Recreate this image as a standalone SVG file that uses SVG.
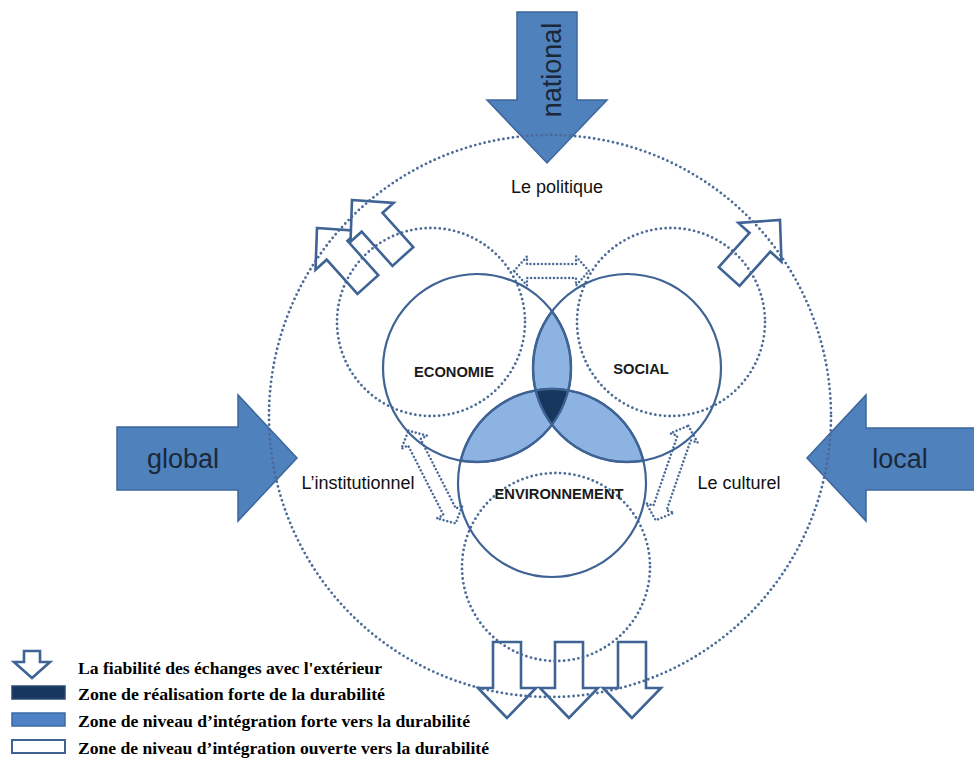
<svg xmlns="http://www.w3.org/2000/svg" width="974" height="758" viewBox="0 0 974 758">
<style>
.big{fill:#4f81bd;stroke:#3c679c;stroke-width:1.5}
.bigt{font-family:"Liberation Sans",Arial,sans-serif;font-size:27px;fill:#1b2838}
.dot{fill:none;stroke:#4a6a98;stroke-width:2.8;stroke-linecap:round;stroke-dasharray:0 4.8}
.dot2{fill:none;stroke:#4a6a98;stroke-width:2.5;stroke-linecap:round;stroke-dasharray:0 3.8}
.sol{fill:none;stroke:#3e6394;stroke-width:2.2}
.lens{fill:#8db3e2;stroke:#3e6394;stroke-width:2.4}
.core{fill:#17375e;stroke:#3e6394;stroke-width:1.5}
.oarr{fill:#fff;stroke:#3e6394;stroke-width:2.6;stroke-linejoin:miter}
.lbl{font-family:"Liberation Sans",Arial,sans-serif;font-size:18px;fill:#111}
.cap{font-family:"Liberation Sans",Arial,sans-serif;font-size:14.7px;fill:#1a1a1a;font-weight:bold}
.leg{font-family:"Liberation Serif","Times New Roman",serif;font-size:17px;font-weight:bold;fill:#000}
</style>
<defs>
<path id="oa" d="M0,0 L29,30 L14,30 L14,76 L-14,76 L-14,30 L-29,30 Z"/>
</defs>
<rect width="974" height="758" fill="#fff"/>

<g id="national">
<path class="big" d="M517,12 L577,12 L577,100 L607,100 L547,163 L487,100 L517,100 Z"/>
<text class="bigt" transform="translate(561,70) rotate(-90)" text-anchor="middle" font-size="28">national</text>
</g>
<g id="global">
<path class="big" d="M117,427 L238,427 L238,395 L297,458 L238,521 L238,490 L117,490 Z"/>
<text class="bigt" x="183" y="468" text-anchor="middle">global</text>
</g>
<g id="local">
<path class="big" d="M976,428 L866,428 L866,395 L807,458 L866,521 L866,490 L976,490 Z"/>
<text class="bigt" x="900" y="468" text-anchor="middle">local</text>
</g>

<g id="connectors">
<use href="#oa" class="oarr" transform="translate(317,228) rotate(-42)"/>
<use href="#oa" class="oarr" transform="translate(352,200) rotate(-42)"/>
<use href="#oa" class="oarr" transform="translate(780,220) rotate(42)"/>
<use href="#oa" class="oarr" transform="translate(507,718) rotate(180)"/>
<use href="#oa" class="oarr" transform="translate(569,718) rotate(180)"/>
<use href="#oa" class="oarr" transform="translate(632,718) rotate(180)"/>
<path class="dot2" transform="translate(551.5,271)" d="M-37.5,0 L-24.5,-14.5 L-24.5,-7 L24.5,-7 L24.5,-14.5 L37.5,0 L24.5,14.5 L24.5,7 L-24.5,7 L-24.5,14.5 Z"/>
<path class="dot2" transform="translate(432,477) rotate(63)" d="M-52,0 L-39,-14.5 L-39,-7 L39,-7 L39,-14.5 L52,0 L39,14.5 L39,7 L-39,7 L-39,14.5 Z"/>
<path class="dot2" transform="translate(672,473) rotate(109)" d="M-50,0 L-37,-14.5 L-37,-7 L37,-7 L37,-14.5 L50,0 L37,14.5 L37,7 L-37,7 L-37,14.5 Z"/>
</g>

<g id="outer">
<circle class="dot" cx="550" cy="416" r="281"/>
<text class="lbl" x="557" y="193" text-anchor="middle">Le politique</text>
<text class="lbl" x="358" y="489" text-anchor="middle">L’institutionnel</text>
<text class="lbl" x="739" y="489" text-anchor="middle">Le culturel</text>
</g>
<g id="dotted-circles">
<circle class="dot" cx="431" cy="322" r="94"/>
<circle class="dot" cx="671" cy="322" r="94"/>
<circle class="dot" cx="556" cy="567" r="94"/>
</g>

<g id="intersections">
<path class="lens" d="M552,311.33 A94,94 0 0 1 552,424.67 A94,94 0 0 1 552,311.33 Z"/>
<path class="lens" d="M460.71,460.58 A94,94 0 0 0 568.29,390.42 A94,94 0 0 0 460.71,460.58 Z"/>
<path class="lens" d="M643.29,460.58 A94,94 0 0 1 535.71,390.42 A94,94 0 0 1 643.29,460.58 Z"/>
<path class="core" d="M535.71,390.42 A94,94 0 0 1 568.29,390.42 A94,94 0 0 1 552,424.67 A94,94 0 0 1 535.71,390.42 Z"/>
</g>
<g id="economie">
<circle class="sol" cx="477" cy="368" r="94"/>
<text class="cap" x="454" y="377" text-anchor="middle">ECONOMIE</text>
</g>
<g id="social">
<circle class="sol" cx="627" cy="368" r="94"/>
<text class="cap" x="641" y="374" text-anchor="middle">SOCIAL</text>
</g>
<g id="environnement">
<circle class="sol" cx="552" cy="483" r="94"/>
<text class="cap" x="559" y="499" text-anchor="middle">ENVIRONNEMENT</text>
</g>

<g id="legend">
<path class="oarr" stroke-width="2" d="M32,678 L50,662 L40,662 L40,651 L24,651 L24,662 L14,662 Z"/>
<rect x="12" y="686" width="53" height="13" fill="#17375e" stroke="#2b4a70" stroke-width="1.5"/>
<rect x="12" y="713" width="53" height="13" fill="#4f81c7" stroke="#3d6aa5" stroke-width="1.5"/>
<rect x="12" y="740" width="53" height="13" fill="#fff" stroke="#3e6394" stroke-width="2"/>
<text class="leg" x="78" y="674" textLength="304" lengthAdjust="spacingAndGlyphs">La fiabilité des échanges avec l'extérieur</text>
<text class="leg" x="78" y="700" textLength="307" lengthAdjust="spacingAndGlyphs">Zone de réalisation forte de la durabilité</text>
<text class="leg" x="78" y="727" textLength="392" lengthAdjust="spacingAndGlyphs">Zone de niveau d’intégration forte vers la durabilité</text>
<text class="leg" x="78" y="754" textLength="411" lengthAdjust="spacingAndGlyphs">Zone de niveau d’intégration ouverte vers la durabilité</text>
</g>
</svg>
